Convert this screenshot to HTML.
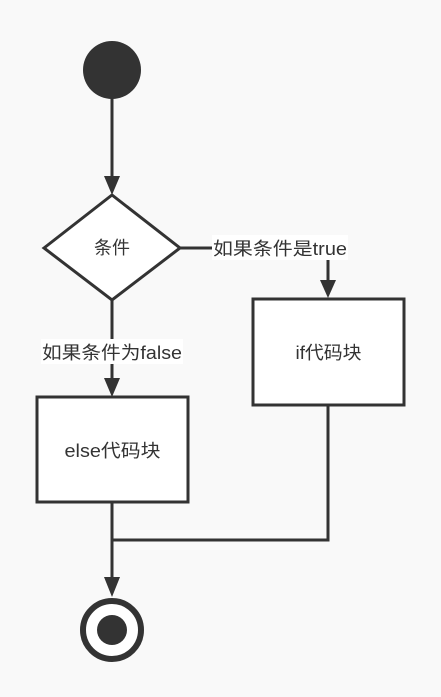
<!DOCTYPE html>
<html><head><meta charset="utf-8"><style>
html,body{margin:0;padding:0;background:#f9f9f9;}
svg{display:block}
text{font-family:"Liberation Sans","Noto Sans CJK SC",sans-serif;font-size:18px;fill:#333;}
</style></head><body>
<svg width="441" height="697" viewBox="0 0 441 697" xmlns="http://www.w3.org/2000/svg">
<rect width="441" height="697" fill="#f9f9f9"/>
<g stroke="#333" stroke-width="3" fill="none">
<line x1="112" y1="98" x2="112" y2="180"/>
<polygon points="44,248 112,195 180,248 112,300" fill="#fff"/>
<polyline points="180,248 328,248 328,284"/>
<line x1="112" y1="300" x2="112" y2="382"/>
<rect x="253" y="299" width="151" height="106" fill="#fff"/>
<rect x="37" y="397" width="151" height="105" fill="#fff"/>
<line x1="112" y1="502" x2="112" y2="582"/>
<polyline points="328,405 328,540 112,540"/>
<circle cx="112" cy="630" r="29" stroke-width="6" fill="#fff"/>
</g>
<circle cx="112" cy="70" r="29" fill="#333"/>
<circle cx="112" cy="630" r="15" fill="#333"/>
<g fill="#333">
<polygon points="104,176 120,176 112,195"/>
<polygon points="320,280 336,280 328,298"/>
<polygon points="104,378 120,378 112,397"/>
<polygon points="104,577 120,577 112,597"/>
</g>
<rect x="212" y="235" width="136" height="25" fill="#fff"/>
<text x="213" y="255" textLength="134" lengthAdjust="spacingAndGlyphs">如果条件是true</text>
<rect x="41" y="339" width="142" height="25" fill="#fff"/>
<text x="42" y="359" textLength="140" lengthAdjust="spacingAndGlyphs">如果条件为false</text>
<text x="112" y="254" text-anchor="middle">条件</text>
<text x="328.5" y="359" text-anchor="middle" textLength="66" lengthAdjust="spacingAndGlyphs">if代码块</text>
<text x="112.5" y="457" text-anchor="middle" textLength="96" lengthAdjust="spacingAndGlyphs">else代码块</text>
</svg>
</body></html>
